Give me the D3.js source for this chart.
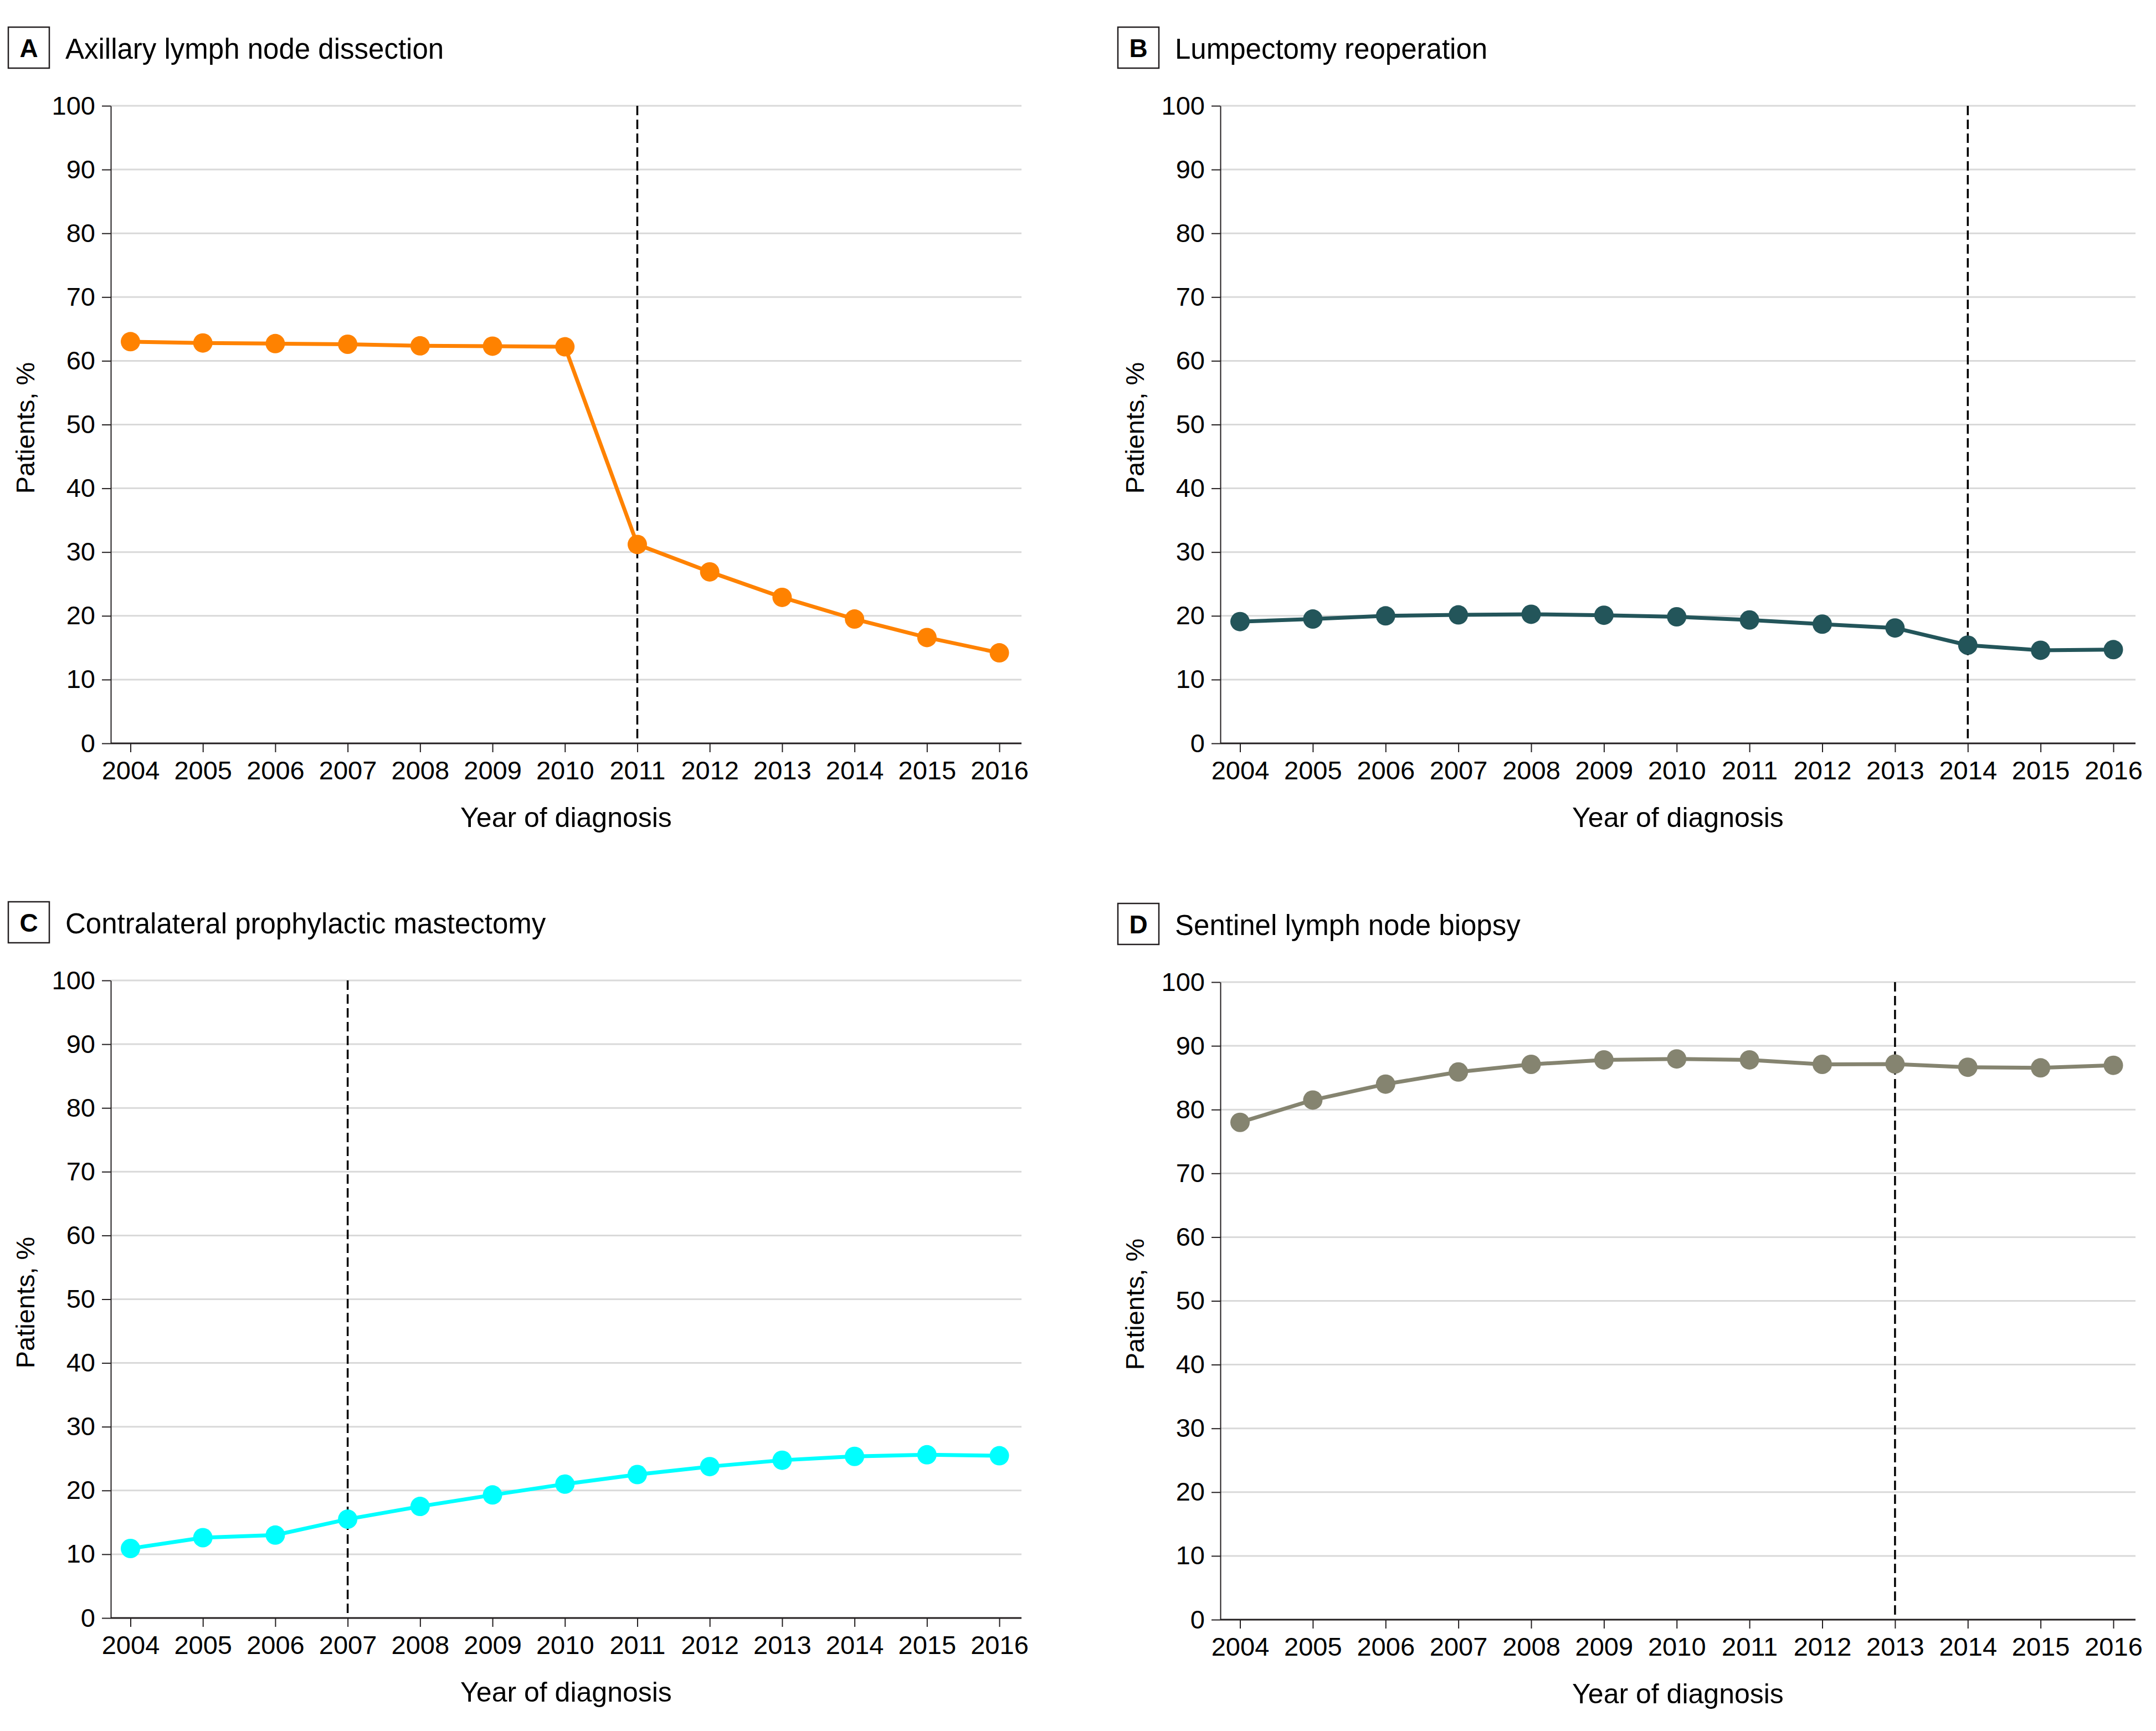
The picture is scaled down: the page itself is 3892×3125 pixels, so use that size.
<!DOCTYPE html>
<html>
<head>
<meta charset="utf-8">
<script src="https://cdn.jsdelivr.net/npm/d3@7"></script>
<style>
  html, body { margin: 0; padding: 0; background: #fff; }
  svg { display: block; }
  text { font-family: "Liberation Sans", Arial, sans-serif; fill: #000; }
</style>
</head>
<body>
<script>
// ---------- data ----------
const years = [2004, 2005, 2006, 2007, 2008, 2009, 2010, 2011, 2012, 2013, 2014, 2015, 2016];
const yTicks = [0, 10, 20, 30, 40, 50, 60, 70, 80, 90, 100];

const panelLetters = ["A", "B", "C", "D"];
const panelTitles = [
  "Axillary lymph node dissection",
  "Lumpectomy reoperation",
  "Contralateral prophylactic mastectomy",
  "Sentinel lymph node biopsy"
];
const cutoffYears = [2011, 2014, 2007, 2013];

const seriesA = [63.0, 62.8, 62.7, 62.6, 62.35, 62.3, 62.2, 31.2, 26.9, 22.9, 19.5, 16.6, 14.2];
const seriesB = [19.1, 19.5, 20.0, 20.15, 20.25, 20.1, 19.85, 19.35, 18.7, 18.1, 15.4, 14.6, 14.7];
const seriesC = [10.9, 12.6, 13.0, 15.5, 17.5, 19.3, 21.0, 22.5, 23.75, 24.75, 25.35, 25.6, 25.45];
const seriesD = [78.0, 81.5, 84.0, 85.9, 87.1, 87.8, 87.95, 87.8, 87.1, 87.15, 86.65, 86.55, 86.95];
const allSeries = [seriesA, seriesB, seriesC, seriesD];

const seriesColors = ["#FF8200", "#23555A", "#00FFFF", "#858470"];

// ---------- layout ----------
const W = 3892, H = 3125;
const panels = [
  { x0: 200,  x1: 1844, y0: 191,  y1: 1342 },
  { x0: 2203, x1: 3855, y0: 191,  y1: 1342 },
  { x0: 200,  x1: 1844, y0: 1770, y1: 2921 },
  { x0: 2203, x1: 3855, y0: 1773, y1: 2924 }
];

const svg = d3.select("body").append("svg")
  .attr("width", W).attr("height", H)
  .attr("viewBox", `0 0 ${W} ${H}`);

panels.forEach((p, i) => {
  const g = svg.append("g");
  const x = d3.scalePoint().domain(years).range([p.x0 + 35.5, p.x1 - 40]);
  const y = d3.scaleLinear().domain([0, 100]).range([p.y1, p.y0]);

  // gridlines
  g.append("g").selectAll("line")
    .data(yTicks.filter(t => t > 0))
    .join("line")
    .attr("x1", p.x0).attr("x2", p.x1)
    .attr("y1", d => y(d)).attr("y2", d => y(d))
    .attr("stroke", "#d9d9d9").attr("stroke-width", 3);

  // y axis
  const yAxis = g.append("g")
    .attr("transform", `translate(${p.x0},0)`)
    .call(d3.axisLeft(y).tickValues(yTicks).tickSize(16).tickPadding(12).tickSizeOuter(0));
  yAxis.select(".domain").attr("stroke", "#231f20").attr("stroke-width", 2);
  yAxis.selectAll(".tick line").attr("stroke", "#231f20").attr("stroke-width", 2);
  yAxis.selectAll(".tick text")
    .attr("font-size", 47).attr("font-family", "Liberation Sans, Arial, sans-serif")
    .attr("fill", "#000");

  // x axis
  const xAxis = g.append("g")
    .attr("transform", `translate(0,${p.y1})`)
    .call(d3.axisBottom(x).tickSize(16).tickPadding(16).tickSizeOuter(0));
  xAxis.select(".domain")
    .attr("d", `M${p.x0},0H${p.x1}`)
    .attr("stroke", "#231f20").attr("stroke-width", 3);
  xAxis.selectAll(".tick line").attr("stroke", "#231f20").attr("stroke-width", 2);
  xAxis.selectAll(".tick text")
    .attr("font-size", 47).attr("font-family", "Liberation Sans, Arial, sans-serif")
    .attr("fill", "#000");

  // dashed cutoff line
  g.append("line")
    .attr("x1", x(cutoffYears[i])).attr("x2", x(cutoffYears[i]))
    .attr("y1", y(100)).attr("y2", y(0) - 8)
    .attr("stroke", "#000").attr("stroke-width", 3.5)
    .attr("stroke-dasharray", "17,8");

  // series line
  const data = years.map((yr, k) => ({ yr, v: allSeries[i][k] }));
  g.append("path")
    .datum(data)
    .attr("fill", "none")
    .attr("stroke", seriesColors[i])
    .attr("stroke-width", 7)
    .attr("stroke-linejoin", "round")
    .attr("d", d3.line().x(d => x(d.yr)).y(d => y(d.v)));

  g.append("g").selectAll("circle")
    .data(data)
    .join("circle")
    .attr("cx", d => x(d.yr)).attr("cy", d => y(d.v))
    .attr("r", 17.5)
    .attr("fill", seriesColors[i]);

  // panel letter box
  const boxX = p.x0 - 185, boxY = p.y0 - 142;
  g.append("rect")
    .attr("x", boxX).attr("y", boxY)
    .attr("width", 74).attr("height", 74)
    .attr("fill", "none").attr("stroke", "#231f20").attr("stroke-width", 2.5);
  g.append("text")
    .attr("x", boxX + 37).attr("y", boxY + 37)
    .attr("dy", "0.36em")
    .attr("text-anchor", "middle")
    .attr("font-size", 46).attr("font-weight", "bold")
    .text(panelLetters[i]);

  // title
  g.append("text")
    .attr("x", p.x0 - 82).attr("y", p.y0 - 85)
    .attr("font-size", 51)
    .text(panelTitles[i]);

  // axis titles
  g.append("text")
    .attr("x", (p.x0 + p.x1) / 2).attr("y", p.y1 + 151)
    .attr("text-anchor", "middle")
    .attr("font-size", 50)
    .text("Year of diagnosis");

  g.append("text")
    .attr("transform", `translate(${p.x0 - 138},${(p.y0 + p.y1) / 2 + 6}) rotate(-90)`)
    .attr("text-anchor", "middle")
    .attr("font-size", 47)
    .text("Patients, %");
});
</script>
</body>
</html>
